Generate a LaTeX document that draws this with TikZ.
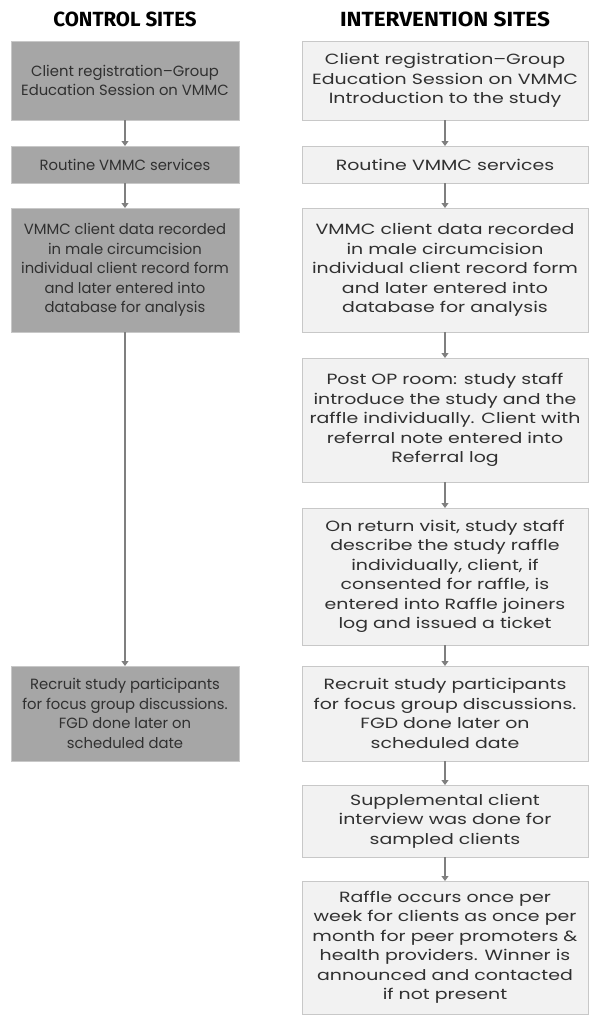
\documentclass[tikz,border=0pt]{standalone}
\usepackage{fontspec}
\setmainfont{Poppins}
\newfontfamily\widefont[FakeStretch=1.28]{Poppins}
\newfontfamily\titlefont{Fira Sans}
\newfontfamily\widetitlefont[FakeStretch=1.1]{Fira Sans}
\usetikzlibrary{arrows.meta}
\definecolor{darkbox}{HTML}{A6A6A6}
\definecolor{lightbox}{HTML}{F2F2F2}
\definecolor{boxline}{HTML}{C8C8C8}
\definecolor{arrowgray}{HTML}{7F7F7F}
\definecolor{txt}{HTML}{303030}
\begin{document}
\begin{tikzpicture}[x=1pt,y=-1pt,
  boxbase/.style={draw=boxline, line width=0.8pt, align=center, inner sep=0pt, outer sep=0pt,
    text=txt, anchor=north},
  ctrl/.style={boxbase, fill=darkbox, minimum width=228pt, font=\fontsize{14.8}{19.5}\selectfont},
  intv/.style={boxbase, fill=lightbox, minimum width=286pt, font=\widefont\fontsize{14.8}{19.5}\selectfont},
  flow/.style={draw=arrowgray, line width=1.1pt, -{Triangle[width=7pt,length=5pt]}},
  heading/.style={font=\titlefont\bfseries\fontsize{20.5}{22}\selectfont, text=black},
  wideheading/.style={font=\widetitlefont\bfseries\fontsize{20.5}{22}\selectfont, text=black}]
\useasboundingbox (0,0) rectangle (591,1021);
% headings
\node[heading] (hc) at (125,19) {CONTROL SITES};
\node[wideheading] (hi) at (445,19) {INTERVENTION SITES};
% control column
\node[ctrl, minimum height=79pt] (c1) at (125,41) {Client registration–Group\\Education Session on VMMC};
\node[ctrl, minimum height=37pt] (c2) at (125,146) {Routine VMMC services};
\node[ctrl, minimum height=124pt] (c3) at (125,208) {VMMC client data recorded\\in male circumcision\\individual client record form\\and later entered into\\database for analysis};
\node[ctrl, minimum height=95pt] (c6) at (125,666) {Recruit study participants\\for focus group discussions.\\FGD done later on\\scheduled date};
% intervention column
\node[intv, minimum height=79pt] (i1) at (445,41) {Client registration–Group\\Education Session on VMMC\\Introduction to the study};
\node[intv, minimum height=37pt] (i2) at (445,146) {Routine VMMC services};
\node[intv, minimum height=124pt] (i3) at (445,208) {VMMC client data recorded\\in male circumcision\\individual client record form\\and later entered into\\database for analysis};
\node[intv, minimum height=124pt] (i4) at (445,358) {Post OP room: study staff\\introduce the study and the\\raffle individually. Client with\\referral note entered into\\Referral log};
\node[intv, minimum height=137pt] (i5) at (445,508) {On return visit, study staff\\describe the study raffle\\individually, client, if\\consented for raffle, is\\entered into Raffle joiners\\log and issued a ticket};
\node[intv, minimum height=95pt] (i6) at (445,666) {Recruit study participants\\for focus group discussions.\\FGD done later on\\scheduled date};
\node[intv, minimum height=72pt] (i7) at (445,785) {Supplemental client\\interview was done for\\sampled clients};
\node[intv, minimum height=133pt] (i8) at (445,881) {Raffle occurs once per\\week for clients as once per\\month for peer promoters \&\\health providers. Winner is\\announced and contacted\\if not present};
% connectors
\draw[flow] (c1) -- (c2);
\draw[flow] (c2) -- (c3);
\draw[flow] (c3) -- (c6);
\draw[flow] (i1) -- (i2);
\draw[flow] (i2) -- (i3);
\draw[flow] (i3) -- (i4);
\draw[flow] (i4) -- (i5);
\draw[flow] (i5) -- (i6);
\draw[flow] (i6) -- (i7);
\draw[flow] (i7) -- (i8);
\end{tikzpicture}
\end{document}
